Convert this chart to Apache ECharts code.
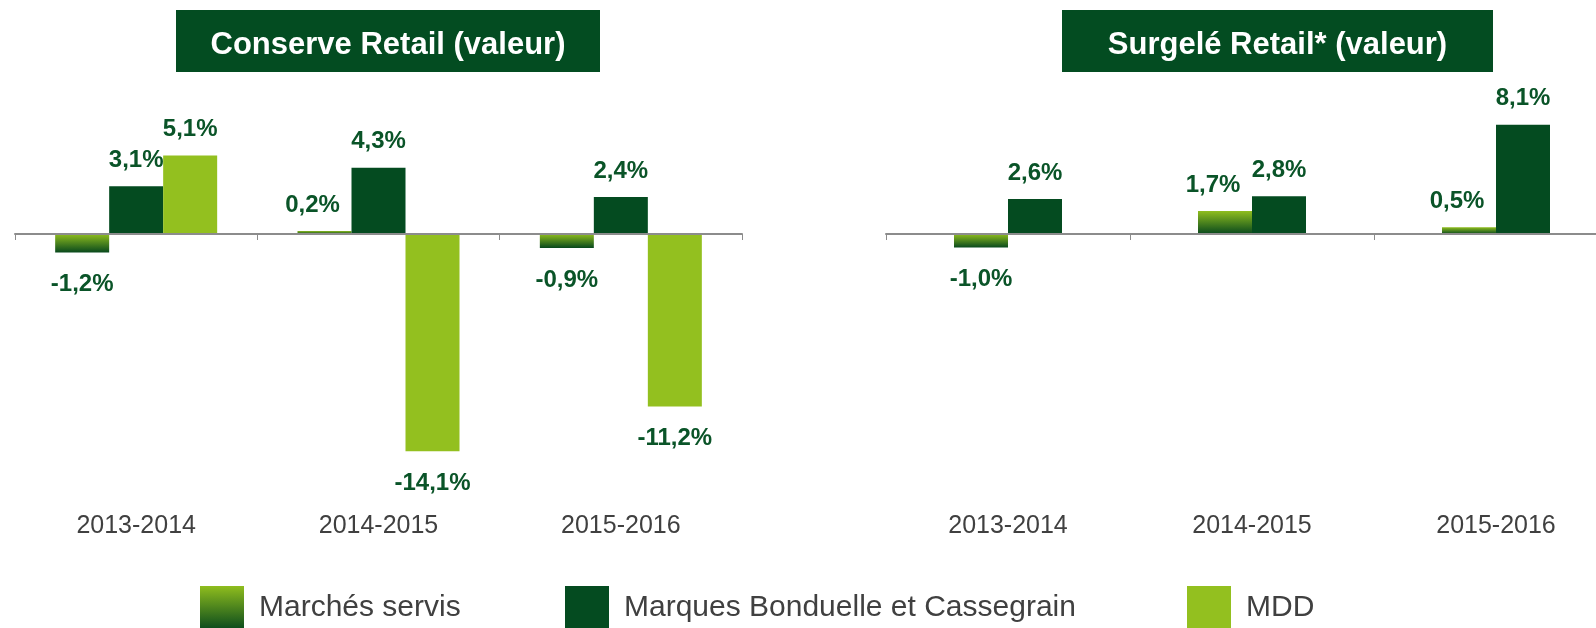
<!DOCTYPE html>
<html>
<head>
<meta charset="utf-8">
<script src="https://cdn.jsdelivr.net/npm/echarts@6/dist/echarts.min.js"></script>
<style>
html,body{margin:0;padding:0;background:#fff;}
#chart{width:1596px;height:628px;}
</style>
</head>
<body>
<div id="chart"></div>
<script>
// ---- data ----
const categories = ['2013-2014', '2014-2015', '2015-2016'];
const seriesNames = ['Marchés servis', 'Marques Bonduelle et Cassegrain', 'MDD'];
const panelTitles = ['Conserve Retail (valeur)', 'Surgelé Retail* (valeur)'];
const conserveMarches = [-1.2, 0.2, -0.9];
const conserveMarques = [3.1, 4.3, 2.4];
const conserveMDD = [5.1, -14.1, -11.2];
const surgeleMarches = [-1.0, 1.7, 0.5];
const surgeleMarques = [2.6, 2.8, 8.1];

// ---- styles ----
const FONT = '"Liberation Sans", Arial, sans-serif';
const DARK = '#044b20';
const LIGHT = '#93c01f';
const LABEL = '#0a5428';
const gradient = new echarts.graphic.LinearGradient(0, 0, 0, 1, [
  { offset: 0, color: '#8fbd1e' },
  { offset: 1, color: '#08491d' }
]);

function fmt(v) { return v.toFixed(1).replace('.', ',') + '%'; }

function makeData(values, shiftPositive) {
  return values.map(v => ({
    value: v,
    label: {
      position: v < 0 ? 'bottom' : 'top',
      distance: v < 0 ? 20 : 14,
      offset: (shiftPositive && v >= 0) ? [-12, 0] : [0, 0]
    }
  }));
}

const labelBase = {
  show: true,
  color: LABEL,
  fontFamily: FONT,
  fontWeight: 'bold',
  fontSize: 24,
  formatter: p => fmt(p.value)
};

function barSeries(name, values, color, gi, shift) {
  return {
    name: name,
    type: 'bar',
    xAxisIndex: gi,
    yAxisIndex: gi,
    barWidth: 54,
    barGap: '0%',
    itemStyle: { color: color },
    label: labelBase,
    data: makeData(values, shift)
  };
}

// zero line axis (line + ticks)
function zeroAxis(gi) {
  return {
    type: 'category',
    gridIndex: gi,
    position: 'bottom',
    data: categories,
    z: 3,
    axisLine: { onZero: true, lineStyle: { color: '#8c8c8c', width: 2 } },
    axisTick: { show: true, length: 6, lineStyle: { color: '#8c8c8c', width: 1 } },
    axisLabel: { show: false }
  };
}
// label axis at bottom of the grid
function labelAxis(gi) {
  return {
    type: 'category',
    gridIndex: gi,
    position: 'bottom',
    data: categories,
    axisLine: { show: false, onZero: false },
    axisTick: { show: false },
    axisLabel: { show: true, margin: 14, color: '#404040', fontFamily: FONT, fontSize: 25 }
  };
}

function titleBox(x, w, text) {
  return {
    type: 'group',
    left: x, top: 10,
    children: [
      { type: 'rect', shape: { x: 0, y: 0, width: w, height: 62 }, style: { fill: '#034c21' } },
      { type: 'text', x: w / 2, y: 35,
        style: { text: text, fill: '#ffffff', font: 'bold 31px ' + FONT, align: 'center', verticalAlign: 'middle' } }
    ]
  };
}

function legendAt(left, name) {
  return {
    left: left, top: 586, padding: 0,
    itemWidth: 44, itemHeight: 44,
    icon: 'rect',
    selectedMode: false,
    data: [name],
    textStyle: { fontFamily: FONT, fontSize: 30, color: '#404040', padding: [10, 0, 0, 10] }
  };
}

const option = {
  animation: false,
  backgroundColor: '#ffffff',
  grid: [
    { left: 15, width: 727, top: 80, height: 420, containLabel: false, outerBoundsMode: 'none' },
    { left: 886, width: 732, top: 99, height: 401, containLabel: false, outerBoundsMode: 'none' }
  ],
  xAxis: [zeroAxis(0), zeroAxis(1), labelAxis(0), labelAxis(1)],
  yAxis: [
    { type: 'value', gridIndex: 0, min: -17.27, max: 10, show: false, splitLine: { show: false } },
    { type: 'value', gridIndex: 1, min: -19.7, max: 10, show: false, splitLine: { show: false } }
  ],
  legend: [
    legendAt(200, seriesNames[0]),
    legendAt(565, seriesNames[1]),
    legendAt(1187, seriesNames[2])
  ],
  graphic: [
    titleBox(176, 424, panelTitles[0]),
    titleBox(1062, 431, panelTitles[1])
  ],
  series: [
    barSeries(seriesNames[0], conserveMarches, gradient, 0, true),
    barSeries(seriesNames[1], conserveMarques, DARK, 0, false),
    barSeries(seriesNames[2], conserveMDD, LIGHT, 0, false),
    barSeries(seriesNames[0], surgeleMarches, gradient, 1, true),
    barSeries(seriesNames[1], surgeleMarques, DARK, 1, false)
  ]
};

const chart = echarts.init(document.getElementById('chart'), null, { renderer: 'canvas' });
chart.setOption(option);
</script>
</body>
</html>
